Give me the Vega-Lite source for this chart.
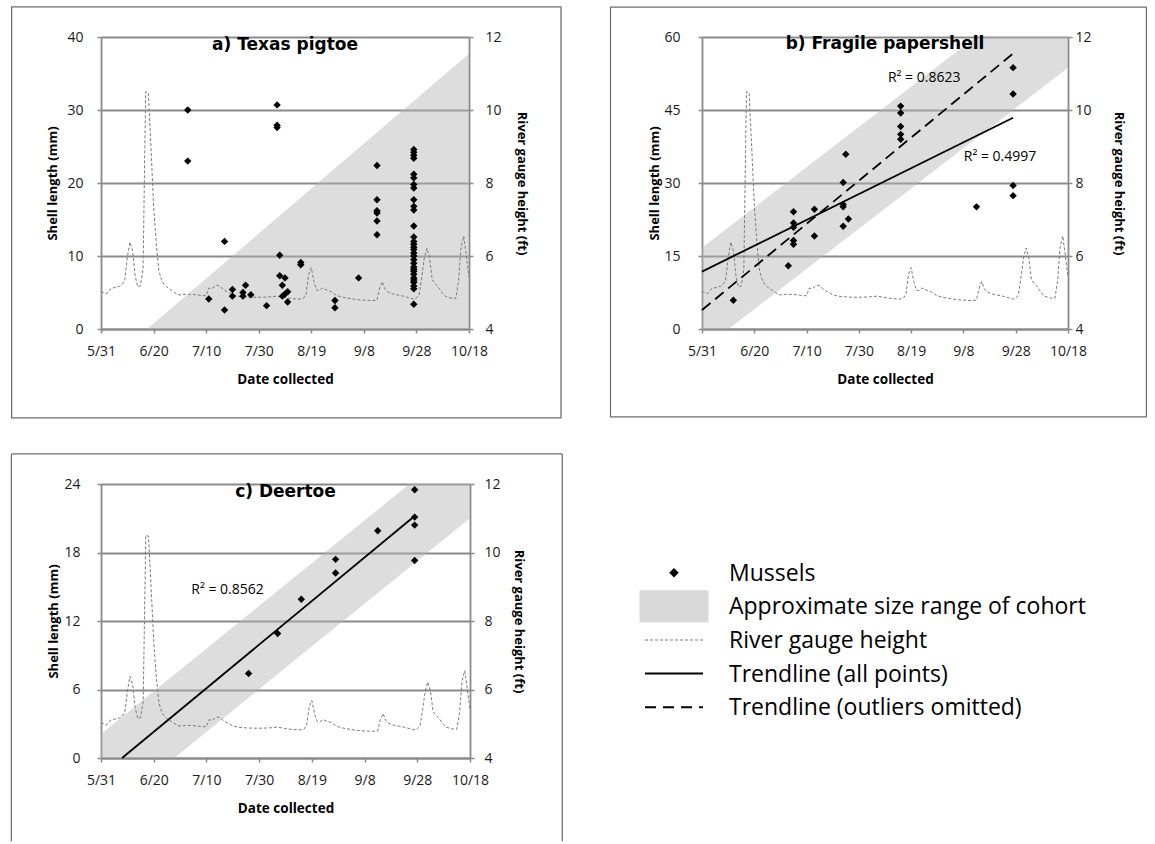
{
  "$schema": "https://vega.github.io/schema/vega-lite/v6.json",
  "background": "white",
  "padding": {"left": 10, "top": 6, "right": 0, "bottom": 0},
  "config": {"view": {"stroke": null}, "font": "Open Sans"},
  "datasets": {
    "river": [
      {"date":"2013-05-31","ft":5.03},{"date":"2013-06-01","ft":5.0},{"date":"2013-06-02","ft":4.96},{"date":"2013-06-03","ft":5.05},{"date":"2013-06-04","ft":5.12},{"date":"2013-06-05","ft":5.13},{"date":"2013-06-06","ft":5.15},{"date":"2013-06-07","ft":5.17},{"date":"2013-06-08","ft":5.22},{"date":"2013-06-09","ft":5.32},{"date":"2013-06-10","ft":5.95},{"date":"2013-06-11","ft":6.38},{"date":"2013-06-12","ft":6.15},{"date":"2013-06-13","ft":5.45},{"date":"2013-06-14","ft":5.15},{"date":"2013-06-15","ft":5.18},{"date":"2013-06-16","ft":5.65},{"date":"2013-06-17","ft":10.5},{"date":"2013-06-18","ft":10.48},{"date":"2013-06-19","ft":9.0},{"date":"2013-06-20","ft":7.4},{"date":"2013-06-21","ft":6.35},{"date":"2013-06-22","ft":5.6},{"date":"2013-06-23","ft":5.35},{"date":"2013-06-24","ft":5.22},{"date":"2013-06-25","ft":5.15},{"date":"2013-06-26","ft":5.1},{"date":"2013-06-27","ft":5.05},{"date":"2013-06-28","ft":5.0},{"date":"2013-06-29","ft":4.96},{"date":"2013-06-30","ft":4.93},{"date":"2013-07-01","ft":4.94},{"date":"2013-07-02","ft":4.95},{"date":"2013-07-04","ft":4.95},{"date":"2013-07-06","ft":4.94},{"date":"2013-07-08","ft":4.92},{"date":"2013-07-10","ft":4.91},{"date":"2013-07-11","ft":5.12},{"date":"2013-07-12","ft":5.1},{"date":"2013-07-13","ft":5.15},{"date":"2013-07-14","ft":5.2},{"date":"2013-07-15","ft":5.18},{"date":"2013-07-16","ft":5.12},{"date":"2013-07-17","ft":5.06},{"date":"2013-07-18","ft":5.02},{"date":"2013-07-19","ft":4.98},{"date":"2013-07-20","ft":4.94},{"date":"2013-07-22","ft":4.9},{"date":"2013-07-25","ft":4.88},{"date":"2013-07-28","ft":4.87},{"date":"2013-07-31","ft":4.87},{"date":"2013-08-03","ft":4.88},{"date":"2013-08-06","ft":4.9},{"date":"2013-08-09","ft":4.86},{"date":"2013-08-12","ft":4.83},{"date":"2013-08-15","ft":4.82},{"date":"2013-08-16","ft":4.84},{"date":"2013-08-17","ft":4.95},{"date":"2013-08-18","ft":5.5},{"date":"2013-08-19","ft":5.68},{"date":"2013-08-20","ft":5.3},{"date":"2013-08-21","ft":5.07},{"date":"2013-08-22","ft":5.05},{"date":"2013-08-23","ft":5.12},{"date":"2013-08-24","ft":5.1},{"date":"2013-08-25","ft":5.06},{"date":"2013-08-26","ft":5.04},{"date":"2013-08-27","ft":5.0},{"date":"2013-08-28","ft":4.95},{"date":"2013-08-29","ft":4.91},{"date":"2013-08-31","ft":4.87},{"date":"2013-09-03","ft":4.83},{"date":"2013-09-06","ft":4.8},{"date":"2013-09-08","ft":4.79},{"date":"2013-09-11","ft":4.78},{"date":"2013-09-13","ft":4.79},{"date":"2013-09-14","ft":5.12},{"date":"2013-09-15","ft":5.3},{"date":"2013-09-16","ft":5.1},{"date":"2013-09-17","ft":5.02},{"date":"2013-09-19","ft":4.96},{"date":"2013-09-21","ft":4.93},{"date":"2013-09-23","ft":4.9},{"date":"2013-09-25","ft":4.86},{"date":"2013-09-27","ft":4.82},{"date":"2013-09-28","ft":4.85},{"date":"2013-09-29","ft":4.92},{"date":"2013-09-30","ft":5.4},{"date":"2013-10-01","ft":5.95},{"date":"2013-10-02","ft":6.22},{"date":"2013-10-03","ft":5.95},{"date":"2013-10-04","ft":5.35},{"date":"2013-10-05","ft":5.25},{"date":"2013-10-06","ft":5.18},{"date":"2013-10-07","ft":5.08},{"date":"2013-10-08","ft":4.97},{"date":"2013-10-09","ft":4.9},{"date":"2013-10-11","ft":4.85},{"date":"2013-10-13","ft":4.84},{"date":"2013-10-14","ft":5.3},{"date":"2013-10-15","ft":6.25},{"date":"2013-10-16","ft":6.55},{"date":"2013-10-17","ft":6.0},{"date":"2013-10-18","ft":5.42}
    ],
    "mussels": [
      {"panel":"a","date":"2013-07-03","len":30.0},{"panel":"a","date":"2013-07-03","len":23.0},
      {"panel":"a","date":"2013-07-11","len":4.1},
      {"panel":"a","date":"2013-07-17","len":12.0},{"panel":"a","date":"2013-07-17","len":2.6},
      {"panel":"a","date":"2013-07-20","len":5.4},{"panel":"a","date":"2013-07-20","len":4.5},
      {"panel":"a","date":"2013-07-24","len":5.0},{"panel":"a","date":"2013-07-24","len":4.5},
      {"panel":"a","date":"2013-07-25","len":6.0},
      {"panel":"a","date":"2013-07-27","len":4.7},
      {"panel":"a","date":"2013-08-02","len":3.2},
      {"panel":"a","date":"2013-08-06","len":30.7},{"panel":"a","date":"2013-08-06","len":27.9},{"panel":"a","date":"2013-08-06","len":27.6},
      {"panel":"a","date":"2013-08-07","len":10.1},{"panel":"a","date":"2013-08-07","len":7.3},
      {"panel":"a","date":"2013-08-08","len":6.0},{"panel":"a","date":"2013-08-08","len":4.5},
      {"panel":"a","date":"2013-08-09","len":7.0},{"panel":"a","date":"2013-08-09","len":4.8},
      {"panel":"a","date":"2013-08-10","len":5.1},{"panel":"a","date":"2013-08-10","len":3.7},
      {"panel":"a","date":"2013-08-15","len":9.1},{"panel":"a","date":"2013-08-15","len":8.8},
      {"panel":"a","date":"2013-08-28","len":3.9},{"panel":"a","date":"2013-08-28","len":2.9},
      {"panel":"a","date":"2013-09-06","len":7.0},
      {"panel":"a","date":"2013-09-13","len":22.4},{"panel":"a","date":"2013-09-13","len":17.7},{"panel":"a","date":"2013-09-13","len":16.2},{"panel":"a","date":"2013-09-13","len":15.9},{"panel":"a","date":"2013-09-13","len":14.8},{"panel":"a","date":"2013-09-13","len":12.9},
      {"panel":"a","date":"2013-09-27","len":24.6},{"panel":"a","date":"2013-09-27","len":24.2},{"panel":"a","date":"2013-09-27","len":23.8},{"panel":"a","date":"2013-09-27","len":23.4},{"panel":"a","date":"2013-09-27","len":21.2},{"panel":"a","date":"2013-09-27","len":20.7},{"panel":"a","date":"2013-09-27","len":19.8},{"panel":"a","date":"2013-09-27","len":19.3},{"panel":"a","date":"2013-09-27","len":17.7},{"panel":"a","date":"2013-09-27","len":16.8},{"panel":"a","date":"2013-09-27","len":16.3},{"panel":"a","date":"2013-09-27","len":14.1},{"panel":"a","date":"2013-09-27","len":12.6},{"panel":"a","date":"2013-09-27","len":12.0},{"panel":"a","date":"2013-09-27","len":11.6},{"panel":"a","date":"2013-09-27","len":11.2},{"panel":"a","date":"2013-09-27","len":10.9},{"panel":"a","date":"2013-09-27","len":10.4},{"panel":"a","date":"2013-09-27","len":10.0},{"panel":"a","date":"2013-09-27","len":9.5},{"panel":"a","date":"2013-09-27","len":9.0},{"panel":"a","date":"2013-09-27","len":8.5},{"panel":"a","date":"2013-09-27","len":8.2},{"panel":"a","date":"2013-09-27","len":7.9},{"panel":"a","date":"2013-09-27","len":7.5},{"panel":"a","date":"2013-09-27","len":7.0},{"panel":"a","date":"2013-09-27","len":6.7},{"panel":"a","date":"2013-09-27","len":6.4},{"panel":"a","date":"2013-09-27","len":5.9},{"panel":"a","date":"2013-09-27","len":5.5},{"panel":"a","date":"2013-09-27","len":3.4},
      {"panel":"b","date":"2013-06-12","len":5.9},
      {"panel":"b","date":"2013-07-03","len":13.0},
      {"panel":"b","date":"2013-07-05","len":24.1},{"panel":"b","date":"2013-07-05","len":21.8},{"panel":"b","date":"2013-07-05","len":20.9},{"panel":"b","date":"2013-07-05","len":18.2},{"panel":"b","date":"2013-07-05","len":17.4},
      {"panel":"b","date":"2013-07-13","len":24.6},{"panel":"b","date":"2013-07-13","len":19.1},
      {"panel":"b","date":"2013-07-24","len":30.1},{"panel":"b","date":"2013-07-24","len":25.6},{"panel":"b","date":"2013-07-24","len":25.1},{"panel":"b","date":"2013-07-24","len":21.1},
      {"panel":"b","date":"2013-07-25","len":35.9},
      {"panel":"b","date":"2013-07-26","len":22.6},
      {"panel":"b","date":"2013-08-15","len":45.8},{"panel":"b","date":"2013-08-15","len":44.4},{"panel":"b","date":"2013-08-15","len":41.6},{"panel":"b","date":"2013-08-15","len":40.0},{"panel":"b","date":"2013-08-15","len":39.0},
      {"panel":"b","date":"2013-09-13","len":25.1},
      {"panel":"b","date":"2013-09-27","len":53.7},{"panel":"b","date":"2013-09-27","len":48.3},{"panel":"b","date":"2013-09-27","len":29.5},{"panel":"b","date":"2013-09-27","len":27.4},
      {"panel":"c","date":"2013-07-26","len":7.4},
      {"panel":"c","date":"2013-08-06","len":10.9},
      {"panel":"c","date":"2013-08-15","len":13.9},
      {"panel":"c","date":"2013-08-28","len":17.4},{"panel":"c","date":"2013-08-28","len":16.2},
      {"panel":"c","date":"2013-09-13","len":19.9},
      {"panel":"c","date":"2013-09-27","len":23.5},{"panel":"c","date":"2013-09-27","len":21.1},{"panel":"c","date":"2013-09-27","len":20.4},{"panel":"c","date":"2013-09-27","len":17.3}
    ],
    "bands": [
      {"panel":"a","date":"2013-05-31","upper":-5.4,"lower":-20},{"panel":"a","date":"2013-10-18","upper":37.7,"lower":-20},
      {"panel":"b","date":"2013-05-31","upper":16.7,"lower":-4.2},{"panel":"b","date":"2013-10-18","upper":74.6,"lower":53.7},
      {"panel":"c","date":"2013-05-31","upper":2.1,"lower":-5.2},{"panel":"c","date":"2013-10-18","upper":28.3,"lower":21.0}
    ],
    "trends": [
      {"panel":"b","kind":"all","date":"2013-05-31","len":11.8},{"panel":"b","kind":"all","date":"2013-09-27","len":43.4},
      {"panel":"b","kind":"omitted","date":"2013-05-31","len":3.9},{"panel":"b","kind":"omitted","date":"2013-09-27","len":56.6},
      {"panel":"c","kind":"all","date":"2013-06-08","len":0},{"panel":"c","kind":"all","date":"2013-09-27","len":21.2}
    ],
    "labels": [
      {"panel":"a","kind":"title","text":"a) Texas pigtoe"},
      {"panel":"b","kind":"title","text":"b) Fragile papershell"},
      {"panel":"b","kind":"r2omitted","text":"R² = 0.8623"},
      {"panel":"b","kind":"r2all","text":"R² = 0.4997"},
      {"panel":"c","kind":"title","text":"c) Deertoe"},
      {"panel":"c","kind":"r2all","text":"R² = 0.8562"}
    ],
    "legend": [
      {"label":"Mussels"},
      {"label":"Approximate size range of cohort"},
      {"label":"River gauge height"},
      {"label":"Trendline (all points)"},
      {"label":"Trendline (outliers omitted)"}
    ]
  },
  "spacing": 34,
  "vconcat": [
    {
      "spacing": 47,
      "hconcat": [
        {
          "width": 368, "height": 292,
          "resolve": {"scale": {"y": "independent"}},
          "layer": [
            {
              "data": {"name": "bands"},
              "transform": [{"filter": "datum.panel === 'a'"}],
              "mark": {"type": "area", "clip": true, "color": "#b3b3b3", "opacity": 0.45},
              "encoding": {
                "x": {"field": "date", "type": "temporal", "title": "Date collected",
                  "scale": {"type": "utc", "domain": [{"year":2013,"month":5,"date":31,"utc":true},{"year":2013,"month":10,"date":18,"utc":true}]},
                  "axis": {"values": [{"year":2013,"month":5,"date":31,"utc":true},{"year":2013,"month":6,"date":20,"utc":true},{"year":2013,"month":7,"date":10,"utc":true},{"year":2013,"month":7,"date":30,"utc":true},{"year":2013,"month":8,"date":19,"utc":true},{"year":2013,"month":9,"date":8,"utc":true},{"year":2013,"month":9,"date":28,"utc":true},{"year":2013,"month":10,"date":18,"utc":true}],
                    "labelExpr": "utcFormat(datum.value, '%-m/%-d')", "grid": false, "domainColor": "#8a8a8a", "domainWidth": 1.8, "tickColor": "#8a8a8a", "tickWidth": 1.5, "tickSize": 4, "labelFontSize": 14, "labelColor": "#1a1a1a", "labelPadding": 11, "labelFlush": false, "labelOverlap": false, "titleFontSize": 13.5, "titleFontWeight": "bold", "titleColor": "#000", "titlePadding": 14}},
                "y": {"field": "upper", "type": "quantitative", "title": "Shell length (mm)", "scale": {"domain": [0, 40]},
                  "axis": {"orient": "left", "values": [0, 10, 20, 30, 40], "grid": true, "gridColor": "#8a8a8a", "gridWidth": 1.8, "domainColor": "#8a8a8a", "domainWidth": 1.8, "tickColor": "#8a8a8a", "tickWidth": 1.5, "tickSize": 4, "labelFontSize": 14, "labelColor": "#1a1a1a", "labelPadding": 14, "titleFontSize": 13, "titleFontWeight": "bold", "titleColor": "#000", "titlePadding": 7}},
                "y2": {"field": "lower"}
              }
            },
            {
              "data": {"name": "river"},
              "mark": {"type": "line", "color": "#7a7a7a", "strokeWidth": 1, "strokeDash": [3, 2]},
              "encoding": {
                "x": {"field": "date", "type": "temporal", "title": "Date collected", "scale": {"type": "utc"}},
                "y": {"field": "ft", "type": "quantitative", "title": "River gauge height (ft)", "scale": {"domain": [4, 12]},
                  "axis": {"orient": "right", "values": [4, 6, 8, 10, 12], "grid": false, "domainColor": "#8a8a8a", "domainWidth": 1.8, "tickColor": "#8a8a8a", "tickWidth": 1.5, "tickSize": 4, "labelFontSize": 14, "labelColor": "#1a1a1a", "labelPadding": 12, "titleFontSize": 13, "titleFontWeight": "bold", "titleColor": "#000", "titlePadding": 13}}
              }
            },
            {
              "layer": [
                {
                  "data": {"name": "mussels"},
                  "transform": [{"filter": "datum.panel === 'a'"}],
                  "mark": {"type": "point", "shape": "diamond", "filled": true, "color": "#000", "size": 55, "opacity": 1},
                  "encoding": {
                    "x": {"field": "date", "type": "temporal", "title": "Date collected", "scale": {"type": "utc"}},
                    "y": {"field": "len", "type": "quantitative", "scale": {"domain": [0, 40]}, "axis": null}
                  }
                },
                {
                  "data": {"name": "labels"},
                  "transform": [{"filter": "datum.panel === 'a' && datum.kind === 'title'"}],
                  "mark": {"type": "rect", "filled": false, "color": "#6e6e6e", "strokeWidth": 1.25},
                  "encoding": {
                    "x": {"datum": {"year":2013,"month":4,"date":27,"utc":true}, "type": "temporal", "scale": {"type": "utc"}},
                    "x2": {"datum": {"year":2013,"month":11,"date":22,"utc":true}},
                    "y": {"datum": 44.11, "type": "quantitative", "scale": {"domain": [0, 40]}, "axis": null},
                    "y2": {"datum": -12.19}
                  }
                },
                {
                  "data": {"name": "labels"},
                  "transform": [{"filter": "datum.panel === 'a' && datum.kind === 'title'"}],
                  "mark": {"type": "text", "font": "DejaVu Sans", "fontSize": 17, "fontWeight": "bold", "align": "center", "baseline": "middle", "dy": 8, "color": "#000"},
                  "encoding": {
                    "x": {"datum": {"year":2013,"month":8,"date":9,"utc":true}, "type": "temporal", "scale": {"type": "utc"}},
                    "y": {"datum": 40, "type": "quantitative", "scale": {"domain": [0, 40]}, "axis": null},
                    "text": {"field": "text"}
                  }
                }
              ]
            }
          ]
        },
        {
          "width": 366, "height": 292,
          "resolve": {"scale": {"y": "independent"}},
          "layer": [
            {
              "data": {"name": "bands"},
              "transform": [{"filter": "datum.panel === 'b'"}],
              "mark": {"type": "area", "clip": true, "color": "#b3b3b3", "opacity": 0.45},
              "encoding": {
                "x": {"field": "date", "type": "temporal", "title": "Date collected",
                  "scale": {"type": "utc", "domain": [{"year":2013,"month":5,"date":31,"utc":true},{"year":2013,"month":10,"date":18,"utc":true}]},
                  "axis": {"values": [{"year":2013,"month":5,"date":31,"utc":true},{"year":2013,"month":6,"date":20,"utc":true},{"year":2013,"month":7,"date":10,"utc":true},{"year":2013,"month":7,"date":30,"utc":true},{"year":2013,"month":8,"date":19,"utc":true},{"year":2013,"month":9,"date":8,"utc":true},{"year":2013,"month":9,"date":28,"utc":true},{"year":2013,"month":10,"date":18,"utc":true}],
                    "labelExpr": "utcFormat(datum.value, '%-m/%-d')", "grid": false, "domainColor": "#8a8a8a", "domainWidth": 1.8, "tickColor": "#8a8a8a", "tickWidth": 1.5, "tickSize": 4, "labelFontSize": 14, "labelColor": "#1a1a1a", "labelPadding": 11, "labelFlush": false, "labelOverlap": false, "titleFontSize": 13.5, "titleFontWeight": "bold", "titleColor": "#000", "titlePadding": 14}},
                "y": {"field": "upper", "type": "quantitative", "title": "Shell length (mm)", "scale": {"domain": [0, 60]},
                  "axis": {"orient": "left", "values": [0, 15, 30, 45, 60], "grid": true, "gridColor": "#8a8a8a", "gridWidth": 1.8, "domainColor": "#8a8a8a", "domainWidth": 1.8, "tickColor": "#8a8a8a", "tickWidth": 1.5, "tickSize": 4, "labelFontSize": 14, "labelColor": "#1a1a1a", "labelPadding": 18, "titleFontSize": 13, "titleFontWeight": "bold", "titleColor": "#000", "titlePadding": 2}},
                "y2": {"field": "lower"}
              }
            },
            {
              "data": {"name": "river"},
              "mark": {"type": "line", "color": "#7a7a7a", "strokeWidth": 1, "strokeDash": [3, 2]},
              "encoding": {
                "x": {"field": "date", "type": "temporal", "title": "Date collected", "scale": {"type": "utc"}},
                "y": {"field": "ft", "type": "quantitative", "title": "River gauge height (ft)", "scale": {"domain": [4, 12]},
                  "axis": {"orient": "right", "values": [4, 6, 8, 10, 12], "grid": false, "domainColor": "#8a8a8a", "domainWidth": 1.8, "tickColor": "#8a8a8a", "tickWidth": 1.5, "tickSize": 4, "labelFontSize": 14, "labelColor": "#1a1a1a", "labelPadding": 3, "titleFontSize": 13, "titleFontWeight": "bold", "titleColor": "#000", "titlePadding": 20}}
              }
            },
            {
              "layer": [
                {
                  "data": {"name": "trends"},
                  "transform": [{"filter": "datum.panel === 'b' && datum.kind === 'all'"}],
                  "mark": {"type": "line", "color": "#000", "strokeWidth": 1.8},
                  "encoding": {
                    "x": {"field": "date", "type": "temporal", "title": "Date collected", "scale": {"type": "utc"}},
                    "y": {"field": "len", "type": "quantitative", "scale": {"domain": [0, 60]}, "axis": null}
                  }
                },
                {
                  "data": {"name": "trends"},
                  "transform": [{"filter": "datum.panel === 'b' && datum.kind === 'omitted'"}],
                  "mark": {"type": "line", "color": "#000", "strokeWidth": 1.8, "strokeDash": [11, 6]},
                  "encoding": {
                    "x": {"field": "date", "type": "temporal", "title": "Date collected", "scale": {"type": "utc"}},
                    "y": {"field": "len", "type": "quantitative", "scale": {"domain": [0, 60]}, "axis": null}
                  }
                },
                {
                  "data": {"name": "mussels"},
                  "transform": [{"filter": "datum.panel === 'b'"}],
                  "mark": {"type": "point", "shape": "diamond", "filled": true, "color": "#000", "size": 55, "opacity": 1},
                  "encoding": {
                    "x": {"field": "date", "type": "temporal", "title": "Date collected", "scale": {"type": "utc"}},
                    "y": {"field": "len", "type": "quantitative", "scale": {"domain": [0, 60]}, "axis": null}
                  }
                },
                {
                  "data": {"name": "labels"},
                  "transform": [{"filter": "datum.panel === 'b' && datum.kind === 'title'"}],
                  "mark": {"type": "rect", "filled": false, "color": "#6e6e6e", "strokeWidth": 1.25},
                  "encoding": {
                    "x": {"datum": {"year":2013,"month":4,"date":26,"utc":true}, "type": "temporal", "scale": {"type": "utc"}},
                    "x2": {"datum": {"year":2013,"month":11,"date":17,"utc":true}},
                    "y": {"datum": 66.16, "type": "quantitative", "scale": {"domain": [0, 60]}, "axis": null},
                    "y2": {"datum": -18.08}
                  }
                },
                {
                  "data": {"name": "labels"},
                  "transform": [{"filter": "datum.panel === 'b' && datum.kind === 'title'"}],
                  "mark": {"type": "text", "font": "DejaVu Sans", "fontSize": 17, "fontWeight": "bold", "align": "center", "baseline": "middle", "dy": 7, "color": "#000"},
                  "encoding": {
                    "x": {"datum": {"year":2013,"month":8,"date":9,"utc":true}, "type": "temporal", "scale": {"type": "utc"}},
                    "y": {"datum": 60, "type": "quantitative", "scale": {"domain": [0, 60]}, "axis": null},
                    "text": {"field": "text"}
                  }
                },
                {
                  "data": {"name": "labels"},
                  "transform": [{"filter": "datum.panel === 'b' && datum.kind === 'r2omitted'"}],
                  "mark": {"type": "text", "fontSize": 14, "align": "center", "baseline": "middle", "color": "#000"},
                  "encoding": {
                    "x": {"datum": {"year":2013,"month":8,"date":24,"utc":true}, "type": "temporal", "scale": {"type": "utc"}},
                    "y": {"datum": 51.5, "type": "quantitative", "scale": {"domain": [0, 60]}, "axis": null},
                    "text": {"field": "text"}
                  }
                },
                {
                  "data": {"name": "labels"},
                  "transform": [{"filter": "datum.panel === 'b' && datum.kind === 'r2all'"}],
                  "mark": {"type": "text", "fontSize": 14, "align": "center", "baseline": "middle", "color": "#000"},
                  "encoding": {
                    "x": {"datum": {"year":2013,"month":9,"date":22,"utc":true}, "type": "temporal", "scale": {"type": "utc"}},
                    "y": {"datum": 35.4, "type": "quantitative", "scale": {"domain": [0, 60]}, "axis": null},
                    "text": {"field": "text"}
                  }
                }
              ]
            }
          ]
        }
      ]
    },
    {
      "spacing": 76,
      "hconcat": [
        {
          "width": 369, "height": 274,
          "resolve": {"scale": {"y": "independent"}},
          "layer": [
            {
              "data": {"name": "bands"},
              "transform": [{"filter": "datum.panel === 'c'"}],
              "mark": {"type": "area", "clip": true, "color": "#b3b3b3", "opacity": 0.45},
              "encoding": {
                "x": {"field": "date", "type": "temporal", "title": "Date collected",
                  "scale": {"type": "utc", "domain": [{"year":2013,"month":5,"date":31,"utc":true},{"year":2013,"month":10,"date":18,"utc":true}]},
                  "axis": {"values": [{"year":2013,"month":5,"date":31,"utc":true},{"year":2013,"month":6,"date":20,"utc":true},{"year":2013,"month":7,"date":10,"utc":true},{"year":2013,"month":7,"date":30,"utc":true},{"year":2013,"month":8,"date":19,"utc":true},{"year":2013,"month":9,"date":8,"utc":true},{"year":2013,"month":9,"date":28,"utc":true},{"year":2013,"month":10,"date":18,"utc":true}],
                    "labelExpr": "utcFormat(datum.value, '%-m/%-d')", "grid": false, "domainColor": "#8a8a8a", "domainWidth": 1.8, "tickColor": "#8a8a8a", "tickWidth": 1.5, "tickSize": 4, "labelFontSize": 14, "labelColor": "#1a1a1a", "labelPadding": 11, "labelFlush": false, "labelOverlap": false, "titleFontSize": 13.5, "titleFontWeight": "bold", "titleColor": "#000", "titlePadding": 14}},
                "y": {"field": "upper", "type": "quantitative", "title": "Shell length (mm)", "scale": {"domain": [0, 24]},
                  "axis": {"orient": "left", "values": [0, 6, 12, 18, 24], "grid": true, "gridColor": "#8a8a8a", "gridWidth": 1.8, "domainColor": "#8a8a8a", "domainWidth": 1.8, "tickColor": "#8a8a8a", "tickWidth": 1.5, "tickSize": 4, "labelFontSize": 14, "labelColor": "#1a1a1a", "labelPadding": 17, "titleFontSize": 13, "titleFontWeight": "bold", "titleColor": "#000", "titlePadding": 3}},
                "y2": {"field": "lower"}
              }
            },
            {
              "data": {"name": "river"},
              "mark": {"type": "line", "color": "#7a7a7a", "strokeWidth": 1, "strokeDash": [3, 2]},
              "encoding": {
                "x": {"field": "date", "type": "temporal", "title": "Date collected", "scale": {"type": "utc"}},
                "y": {"field": "ft", "type": "quantitative", "title": "River gauge height (ft)", "scale": {"domain": [4, 12]},
                  "axis": {"orient": "right", "values": [4, 6, 8, 10, 12], "grid": false, "domainColor": "#8a8a8a", "domainWidth": 1.8, "tickColor": "#8a8a8a", "tickWidth": 1.5, "tickSize": 4, "labelFontSize": 14, "labelColor": "#1a1a1a", "labelPadding": 10, "titleFontSize": 13, "titleFontWeight": "bold", "titleColor": "#000", "titlePadding": 11}}
              }
            },
            {
              "layer": [
                {
                  "data": {"name": "trends"},
                  "transform": [{"filter": "datum.panel === 'c' && datum.kind === 'all'"}],
                  "mark": {"type": "line", "color": "#000", "strokeWidth": 1.8},
                  "encoding": {
                    "x": {"field": "date", "type": "temporal", "title": "Date collected", "scale": {"type": "utc"}},
                    "y": {"field": "len", "type": "quantitative", "scale": {"domain": [0, 24]}, "axis": null}
                  }
                },
                {
                  "data": {"name": "mussels"},
                  "transform": [{"filter": "datum.panel === 'c'"}],
                  "mark": {"type": "point", "shape": "diamond", "filled": true, "color": "#000", "size": 55, "opacity": 1},
                  "encoding": {
                    "x": {"field": "date", "type": "temporal", "title": "Date collected", "scale": {"type": "utc"}},
                    "y": {"field": "len", "type": "quantitative", "scale": {"domain": [0, 24]}, "axis": null}
                  }
                },
                {
                  "data": {"name": "labels"},
                  "transform": [{"filter": "datum.panel === 'c' && datum.kind === 'title'"}],
                  "mark": {"type": "rule", "color": "#6e6e6e", "strokeWidth": 1.25},
                  "encoding": {
                    "x": {"datum": {"year":2013,"month":4,"date":27,"utc":true}, "type": "temporal", "scale": {"type": "utc"}},
                    "y": {"datum": 26.63, "type": "quantitative", "scale": {"domain": [0, 24]}, "axis": null},
                    "y2": {"datum": -7.3}
                  }
                },
                {
                  "data": {"name": "labels"},
                  "transform": [{"filter": "datum.panel === 'c' && datum.kind === 'title'"}],
                  "mark": {"type": "rule", "color": "#6e6e6e", "strokeWidth": 1.25},
                  "encoding": {
                    "x": {"datum": {"year":2013,"month":11,"date":22,"utc":true}, "type": "temporal", "scale": {"type": "utc"}},
                    "y": {"datum": 26.63, "type": "quantitative", "scale": {"domain": [0, 24]}, "axis": null},
                    "y2": {"datum": -7.3}
                  }
                },
                {
                  "data": {"name": "labels"},
                  "transform": [{"filter": "datum.panel === 'c' && datum.kind === 'title'"}],
                  "mark": {"type": "rule", "color": "#6e6e6e", "strokeWidth": 1.25},
                  "encoding": {
                    "x": {"datum": {"year":2013,"month":4,"date":27,"utc":true}, "type": "temporal", "scale": {"type": "utc"}},
                    "x2": {"datum": {"year":2013,"month":11,"date":22,"utc":true}},
                    "y": {"datum": 26.63, "type": "quantitative", "scale": {"domain": [0, 24]}, "axis": null}
                  }
                },
                {
                  "data": {"name": "labels"},
                  "transform": [{"filter": "datum.panel === 'c' && datum.kind === 'title'"}],
                  "mark": {"type": "text", "font": "DejaVu Sans", "fontSize": 17, "fontWeight": "bold", "align": "center", "baseline": "middle", "dy": 8, "color": "#000"},
                  "encoding": {
                    "x": {"datum": {"year":2013,"month":8,"date":9,"utc":true}, "type": "temporal", "scale": {"type": "utc"}},
                    "y": {"datum": 24, "type": "quantitative", "scale": {"domain": [0, 24]}, "axis": null},
                    "text": {"field": "text"}
                  }
                },
                {
                  "data": {"name": "labels"},
                  "transform": [{"filter": "datum.panel === 'c' && datum.kind === 'r2all'"}],
                  "mark": {"type": "text", "fontSize": 14, "align": "center", "baseline": "middle", "color": "#000"},
                  "encoding": {
                    "x": {"datum": {"year":2013,"month":7,"date":18,"utc":true}, "type": "temporal", "scale": {"type": "utc"}},
                    "y": {"datum": 14.7, "type": "quantitative", "scale": {"domain": [0, 24]}, "axis": null},
                    "text": {"field": "text"}
                  }
                }
              ]
            }
          ]
        },
        {
          "width": 55, "height": 274,
          "data": {"name": "legend"},
          "layer": [
            {
              "transform": [{"filter": "datum.label === 'Mussels'"}],
              "mark": {"type": "point", "shape": "diamond", "filled": true, "color": "#000", "size": 90, "opacity": 1},
              "encoding": {
                "x": {"datum": 0, "type": "quantitative", "scale": {"domain": [0, 1]}, "axis": null},
                "y": {"field": "label", "type": "nominal", "sort": null, "axis": null, "scale": {"type": "point", "domain": ["Mussels", "Approximate size range of cohort", "River gauge height", "Trendline (all points)", "Trendline (outliers omitted)"], "range": [72, 240]}}
              }
            },
            {
              "transform": [{"filter": "datum.label === 'Approximate size range of cohort'"}],
              "mark": {"type": "point", "shape": "M-1,-0.47H1V0.47H-1Z", "filled": true, "color": "#d9d9d9", "size": 4761, "opacity": 1},
              "encoding": {
                "x": {"datum": 0, "type": "quantitative", "scale": {"domain": [0, 1]}, "axis": null},
                "y": {"field": "label", "type": "nominal", "sort": null, "axis": null}
              }
            },
            {
              "transform": [{"filter": "datum.label === 'River gauge height'"}],
              "mark": {"type": "point", "shape": "M-1,0H1", "filled": false, "color": "#7a7a7a", "strokeWidth": 1, "strokeDash": [3, 2], "size": 3364, "opacity": 1},
              "encoding": {
                "x": {"datum": 0, "type": "quantitative", "scale": {"domain": [0, 1]}, "axis": null},
                "y": {"field": "label", "type": "nominal", "sort": null, "axis": null}
              }
            },
            {
              "transform": [{"filter": "datum.label === 'Trendline (all points)'"}],
              "mark": {"type": "point", "shape": "M-1,0H1", "filled": false, "color": "#000", "strokeWidth": 2, "size": 3364, "opacity": 1},
              "encoding": {
                "x": {"datum": 0, "type": "quantitative", "scale": {"domain": [0, 1]}, "axis": null},
                "y": {"field": "label", "type": "nominal", "sort": null, "axis": null}
              }
            },
            {
              "transform": [{"filter": "datum.label === 'Trendline (outliers omitted)'"}],
              "mark": {"type": "point", "shape": "M-1,0H1", "filled": false, "color": "#000", "strokeWidth": 2, "strokeDash": [11, 7], "size": 3364, "opacity": 1},
              "encoding": {
                "x": {"datum": 0, "type": "quantitative", "scale": {"domain": [0, 1]}, "axis": null},
                "y": {"field": "label", "type": "nominal", "sort": null, "axis": null}
              }
            },
            {
              "mark": {"type": "text", "align": "left", "baseline": "alphabetic", "dy": 8, "fontSize": 23, "color": "#000"},
              "encoding": {
                "x": {"datum": 1, "type": "quantitative", "scale": {"domain": [0, 1]}, "axis": null},
                "y": {"field": "label", "type": "nominal", "sort": null, "axis": null},
                "text": {"field": "label"}
              }
            }
          ]
        }
      ]
    }
  ]
}
